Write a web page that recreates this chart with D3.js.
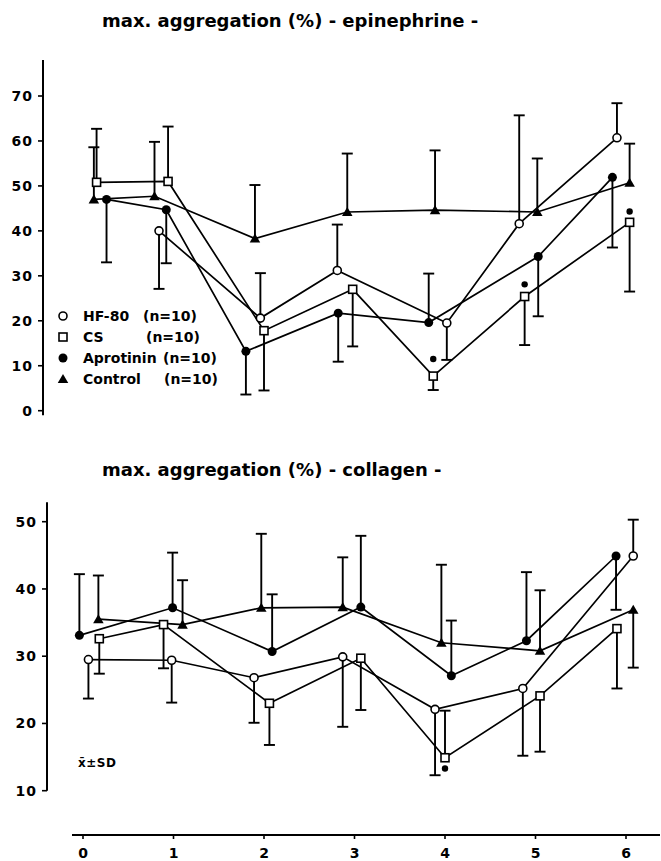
<!DOCTYPE html>
<html>
<head>
<meta charset="utf-8">
<script src="https://cdn.jsdelivr.net/npm/d3@7"></script>
<style>
  body { margin: 0; background: #fff; }
  svg text { font-family: "DejaVu Sans", sans-serif; font-weight: bold; fill: #000; }
</style>
</head>
<body>
<svg id="chart" width="661" height="861"></svg>
<script>
// max. aggregation (%) - two panels, 4 groups, mean with one-sided SD bar

const xTicks = [0, 1, 2, 3, 4, 5, 6];
const groupNames = ["HF-80", "CS", "Aprotinin", "Control"];
const groupN = ["(n=10)", "(n=10)", "(n=10)", "(n=10)"];

// each point: [time (as placed in the plot), mean, end of SD bar]
const epiHF80     = [[0.84, 40, 27.1], [1.96, 20.6, 30.6], [2.81, 31.2, 41.4], [4.02, 19.5, 11.3], [4.82, 41.6, 65.7], [5.90, 60.7, 68.4]];
const epiCS       = [[0.15, 50.8, 62.7], [0.94, 51, 63.2], [2.00, 17.8, 4.5], [2.98, 27, 14.3], [3.87, 7.7, 4.6], [4.88, 25.4, 14.6], [6.04, 41.9, 26.5]];
const epiAprot    = [[0.26, 47, 33], [0.92, 44.7, 32.8], [1.80, 13.2, 3.6], [2.82, 21.7, 10.9], [3.82, 19.6, 30.5], [5.03, 34.3, 21], [5.85, 51.9, 36.3]];
const epiControl  = [[0.12, 47, 58.6], [0.79, 47.7, 59.8], [1.90, 38.3, 50.2], [2.92, 44.2, 57.2], [3.89, 44.6, 57.9], [5.02, 44.2, 56.1], [6.04, 50.7, 59.4]];
const epiStars    = [[3.87, 11.5], [4.88, 28.1], [6.04, 44.3]];

const colHF80     = [[0.06, 29.5, 23.7], [0.98, 29.4, 23.1], [1.89, 26.8, 20.1], [2.87, 29.9, 19.5], [3.89, 22.1, 12.3], [4.86, 25.2, 15.2], [6.08, 44.9, 50.3]];
const colCS       = [[0.18, 32.6, 27.4], [0.89, 34.7, 28.2], [2.06, 23.0, 16.8], [3.07, 29.7, 22.0], [4.00, 14.9, 21.9], [5.05, 24.1, 15.8], [5.90, 34.1, 25.2]];
const colAprot    = [[-0.04, 33.1, 42.2], [0.99, 37.2, 45.4], [2.09, 30.7, 39.2], [3.07, 37.3, 47.9], [4.07, 27.1, 35.3], [4.90, 32.3, 42.5], [5.89, 44.9, 36.9]];
const colControl  = [[0.17, 35.5, 42.0], [1.10, 34.7, 41.3], [1.97, 37.2, 48.2], [2.87, 37.3, 44.7], [3.96, 32.0, 43.6], [5.05, 30.8, 39.8], [6.08, 36.9, 28.3]];
const colStars    = [[4.00, 13.3]];

const epiTicks = [0, 10, 20, 30, 40, 50, 60, 70];
const colTicks = [10, 20, 30, 40, 50];

const svg = d3.select("#chart");

const x = d3.scaleLinear().domain([0, 6]).range([83, 626]);

function drawMarker(g, kind, cx, cy) {
    if (kind === "HF-80") {
        g.append("circle").attr("cx", cx).attr("cy", cy).attr("r", 4)
            .attr("fill", "#fff").attr("stroke", "#000").attr("stroke-width", 1.6);
    } else if (kind === "CS") {
        g.append("rect").attr("x", cx - 4).attr("y", cy - 4).attr("width", 8).attr("height", 8)
            .attr("fill", "#fff").attr("stroke", "#000").attr("stroke-width", 1.6);
    } else if (kind === "Aprotinin") {
        g.append("circle").attr("cx", cx).attr("cy", cy).attr("r", 4.5).attr("fill", "#000");
    } else {
        g.append("path").attr("d", d3.symbol().type(d3.symbolTriangle).size(48)())
            .attr("transform", `translate(${cx},${cy + 1})`).attr("fill", "#000");
    }
}

function drawPanel(opt) {
    const y = opt.y;
    const g = svg.append("g");

    // title
    g.append("text").attr("x", 102).attr("y", opt.titleY)
        .attr("font-size", "18px").text(opt.title);

    // y axis
    g.append("line").attr("x1", opt.axisX).attr("x2", opt.axisX)
        .attr("y1", y(opt.axisTop)).attr("y2", y(opt.axisBottom))
        .attr("stroke", "#000").attr("stroke-width", 2);
    opt.ticks.forEach(t => {
        g.append("line").attr("x1", opt.axisX - 5).attr("x2", opt.axisX)
            .attr("y1", y(t)).attr("y2", y(t)).attr("stroke", "#000").attr("stroke-width", 1.6);
        g.append("text").attr("x", opt.axisX - 10).attr("y", y(t) + 5)
            .attr("text-anchor", "end").attr("font-size", "14px")
            .attr("letter-spacing", "1px").text(t);
    });

    const line = d3.line().x(d => x(d[0])).y(d => y(d[1]));

    // connecting lines
    opt.series.forEach(s => {
        g.append("path").attr("d", line(s.data)).attr("fill", "none")
            .attr("stroke", "#000").attr("stroke-width", 1.7);
    });

    // SD bars
    opt.series.forEach(s => {
        s.data.forEach(d => {
            const cx = x(d[0]);
            g.append("line").attr("x1", cx).attr("x2", cx)
                .attr("y1", y(d[1])).attr("y2", y(d[2]))
                .attr("stroke", "#000").attr("stroke-width", 1.9);
            g.append("line").attr("x1", cx - 5.5).attr("x2", cx + 5.5)
                .attr("y1", y(d[2])).attr("y2", y(d[2]))
                .attr("stroke", "#000").attr("stroke-width", 1.9);
        });
    });

    // markers
    opt.series.forEach(s => {
        s.data.forEach(d => drawMarker(g, s.name, x(d[0]), y(d[1])));
    });

    // significance marks
    opt.stars.forEach(d => {
        g.append("circle").attr("cx", x(d[0])).attr("cy", y(d[1])).attr("r", 3.2).attr("fill", "#000");
    });
    return g;
}

const yEpi = d3.scaleLinear().domain([0, 70]).range([410.7, 96]);
const yCol = d3.scaleLinear().domain([10, 50]).range([790.7, 521.7]);

drawPanel({
    title: "max. aggregation (%) - epinephrine -",
    titleY: 27,
    y: yEpi, axisX: 43, axisTop: 78, axisBottom: -1, ticks: epiTicks,
    series: [
        {name: "HF-80", data: epiHF80},
        {name: "CS", data: epiCS},
        {name: "Aprotinin", data: epiAprot},
        {name: "Control", data: epiControl}
    ],
    stars: epiStars
});

drawPanel({
    title: "max. aggregation (%) - collagen -",
    titleY: 476,
    y: yCol, axisX: 47, axisTop: 52.9, axisBottom: 10, ticks: colTicks,
    series: [
        {name: "HF-80", data: colHF80},
        {name: "CS", data: colCS},
        {name: "Aprotinin", data: colAprot},
        {name: "Control", data: colControl}
    ],
    stars: colStars
});

// x axis (shared, at the bottom)
const xAxisY = 835;
svg.append("line").attr("x1", 72).attr("x2", 660).attr("y1", xAxisY).attr("y2", xAxisY)
    .attr("stroke", "#000").attr("stroke-width", 2);
xTicks.forEach(t => {
    svg.append("line").attr("x1", x(t)).attr("x2", x(t)).attr("y1", xAxisY).attr("y2", xAxisY + 4)
        .attr("stroke", "#000").attr("stroke-width", 1.6);
    svg.append("text").attr("x", x(t)).attr("y", 858).attr("text-anchor", "middle")
        .attr("font-size", "14px").text(t);
});

// legend (top panel)
const legendY = [316, 337, 358, 379];
const legendNX = [143, 146, 163, 164];
groupNames.forEach((name, i) => {
    drawMarker(svg, name, 63, legendY[i]);
    svg.append("text").attr("x", 83).attr("y", legendY[i] + 5)
        .attr("font-size", "14px").text(name);
    svg.append("text").attr("x", legendNX[i]).attr("y", legendY[i] + 5)
        .attr("font-size", "14px").text(groupN[i]);
});

// mean ± SD note
svg.append("text").attr("x", 78).attr("y", 767).attr("font-size", "12px")
    .attr("letter-spacing", "0.5px").text("x\u0304\u00B1SD");
</script>
</body>
</html>
